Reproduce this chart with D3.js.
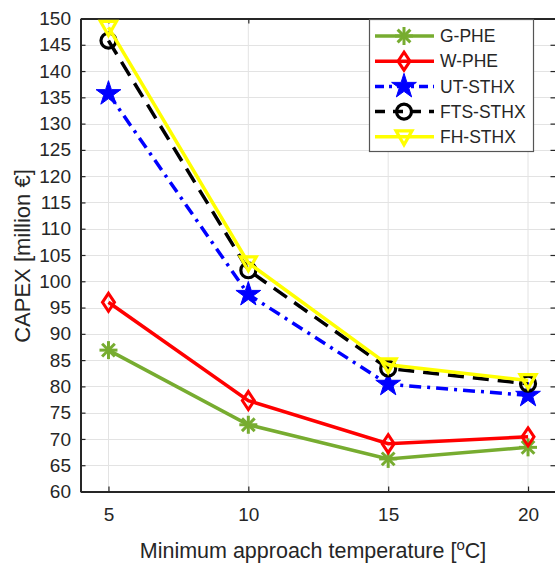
<!DOCTYPE html>
<html>
<head>
<meta charset="utf-8">
<script src="https://cdn.jsdelivr.net/npm/d3@7"></script>
<style>
  body { margin: 0; background: #fff; }
  text { font-family: "Liberation Sans", Arial, sans-serif; fill: #262626; }
</style>
</head>
<body>
<div id="chart"></div>
<script>
// ---------------- Data ----------------
const temps = [5, 10, 15, 20];
const gPhe = [86.9, 72.7, 66.2, 68.4];
const wPhe = [96.0, 77.3, 69.1, 70.4];
const utSthx = [135.7, 97.5, 80.4, 78.3];
const ftsSthx = [145.8, 102.1, 83.4, 80.5];
const fhSthx = [148.3, 103.5, 84.1, 81.1];
const seriesNames = ["G-PHE", "W-PHE", "UT-STHX", "FTS-STHX", "FH-STHX"];
const yTicks = d3.range(60, 151, 5);

const series = [
  { name: seriesNames[0], values: gPhe, color: "#77ac30", dash: null, marker: "asterisk" },
  { name: seriesNames[1], values: wPhe, color: "#ff0000", dash: null, marker: "diamond" },
  { name: seriesNames[2], values: utSthx, color: "#0000ff", dash: "12,6,3,6", marker: "star" },
  { name: seriesNames[3], values: ftsSthx, color: "#000000", dash: "16,9", marker: "circle" },
  { name: seriesNames[4], values: fhSthx, color: "#ffff00", dash: null, marker: "triangle" }
];

// ---------------- Layout ----------------
const W = 555, H = 565;
const mLeft = 80.5, mRight = 556, mTop = 18.5, mBottom = 491.5;

const svg = d3.select("#chart").append("svg")
  .attr("width", W).attr("height", H);

const x = d3.scaleLinear().domain([4, 21]).range([mLeft, mRight]);
const y = d3.scaleLinear().domain([60, 150]).range([mBottom, mTop]);

// grid
svg.append("g").selectAll("line").data(temps).join("line")
  .attr("x1", d => x(d)).attr("x2", d => x(d))
  .attr("y1", mTop).attr("y2", mBottom)
  .attr("stroke", "#e3e3e3").attr("stroke-width", 1);
svg.append("g").selectAll("line").data(yTicks).join("line")
  .attr("x1", mLeft).attr("x2", mRight)
  .attr("y1", d => Math.round(y(d)) + 0.5).attr("y2", d => Math.round(y(d)) + 0.5)
  .attr("stroke", "#e3e3e3").attr("stroke-width", 1);

// axes (box with inward ticks)
const axB = svg.append("g").attr("transform", `translate(0,${mBottom})`)
  .call(d3.axisBottom(x).tickValues(temps).tickSizeInner(-5).tickSizeOuter(0).tickPadding(16));
const axT = svg.append("g").attr("transform", `translate(0,${mTop})`)
  .call(d3.axisTop(x).tickValues(temps).tickSizeInner(-5).tickSizeOuter(0).tickFormat(""));
const axL = svg.append("g").attr("transform", `translate(${mLeft},0)`)
  .call(d3.axisLeft(y).tickValues(yTicks).tickSizeInner(-5).tickSizeOuter(0).tickPadding(9.5));
const axR = svg.append("g").attr("transform", `translate(${mRight - 0.5},0)`)
  .call(d3.axisRight(y).tickValues(yTicks).tickSizeInner(-5).tickSizeOuter(0).tickFormat(""));
[axB, axT, axL, axR].forEach(a => {
  a.select(".domain").attr("stroke", "#262626").attr("stroke-width", 2);
  a.selectAll(".tick line").attr("stroke", "#262626").attr("stroke-width", 1.2);
  a.selectAll("text").attr("font-size", "19px").attr("fill", "#262626")
    .style("font-family", "'Liberation Sans', Arial, sans-serif");
});

// axis labels
const xl = svg.append("text")
  .attr("x", 313).attr("y", 558)
  .attr("text-anchor", "middle").attr("font-size", "21.5px");
xl.append("tspan").text("Minimum approach temperature [");
xl.append("tspan").text("o").attr("dy", -8).attr("font-size", "15px");
xl.append("tspan").text("C]").attr("dy", 8);

svg.append("text")
  .attr("transform", "translate(30,256) rotate(-90)")
  .attr("text-anchor", "middle").attr("font-size", "22px")
  .text("CAPEX [million €]");

// ---------------- Markers ----------------
function drawMarker(g, type, color) {
  if (type === "asterisk") {
    const r = 9;
    [0, 45, 90, 135].forEach(a => {
      const rad = a * Math.PI / 180;
      g.append("line")
        .attr("x1", -r * Math.cos(rad)).attr("y1", -r * Math.sin(rad))
        .attr("x2", r * Math.cos(rad)).attr("y2", r * Math.sin(rad))
        .attr("stroke", color).attr("stroke-width", 3);
    });
  } else if (type === "diamond") {
    g.append("path").attr("d", "M0,-9L6,0L0,9L-6,0Z")
      .attr("fill", "none").attr("stroke", color).attr("stroke-width", 3);
  } else if (type === "star") {
    g.append("path").attr("d", d3.symbol(d3.symbolStar, 190)())
      .attr("fill", color).attr("stroke", color).attr("stroke-width", 1);
  } else if (type === "circle") {
    g.append("circle").attr("r", 7.5)
      .attr("fill", "none").attr("stroke", color).attr("stroke-width", 3.2);
  } else if (type === "triangle") {
    g.append("path").attr("d", "M-8,-6L8,-6L0,8Z")
      .attr("fill", "none").attr("stroke", color).attr("stroke-width", 3.2);
  }
}

const line = d3.line().x((d, i) => x(temps[i])).y(d => y(d));

series.forEach(s => {
  const g = svg.append("g");
  g.append("path").datum(s.values)
    .attr("d", line)
    .attr("fill", "none")
    .attr("stroke", s.color)
    .attr("stroke-width", 3.5)
    .attr("stroke-dasharray", s.dash);
  s.values.forEach((v, i) => {
    const mg = g.append("g").attr("transform", `translate(${x(temps[i])},${y(v)})`);
    drawMarker(mg, s.marker, s.color);
  });
});

// ---------------- Legend ----------------
const lg = svg.append("g");
lg.append("rect")
  .attr("x", 369.5).attr("y", 19.5).attr("width", 164).attr("height", 132)
  .attr("fill", "#fff").attr("stroke", "#555").attr("stroke-width", 1.2);
series.forEach((s, i) => {
  const cy = 36 + i * 25.2;
  lg.append("line")
    .attr("x1", 375).attr("x2", 434).attr("y1", cy).attr("y2", cy)
    .attr("stroke", s.color).attr("stroke-width", 3.5)
    .attr("stroke-dasharray", s.dash ? (s.marker === "star" ? "9,5,3,5" : "10,8") : null);
  const mg = lg.append("g").attr("transform", `translate(404,${cy})`);
  drawMarker(mg, s.marker, s.color);
  lg.append("text")
    .attr("x", 440).attr("y", cy + 6.2)
    .attr("font-size", "17.5px").attr("fill", "#000")
    .text(s.name);
});
</script>
</body>
</html>
